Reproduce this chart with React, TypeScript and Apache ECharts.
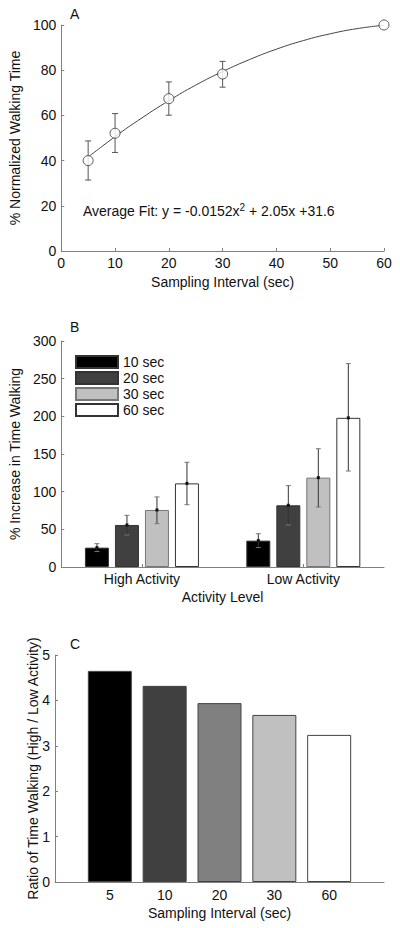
import React, { useEffect, useRef } from "react";
import * as echarts from "echarts";

// Panel A
const aX = [5, 10, 20, 30, 60];
const aMean = [40, 52.1, 67.4, 78.3, 100];
const aLow = [31.4, 43.6, 60.1, 72.5, null];
const aHigh = [48.7, 60.8, 74.8, 83.9, null];
const fitX = [5, 10, 15, 20, 25, 30, 35, 40, 45, 50, 55, 60];
const fitY = [41.5, 50.6, 58.9, 66.5, 73.4, 79.4, 84.7, 89.3, 93.1, 96.1, 98.4, 99.9];
const aXTicks = [0, 10, 20, 30, 40, 50, 60];
const aYTicks = [0, 20, 40, 60, 80, 100];

// Panel B
const bCategories = ["High Activity", "Low Activity"];
const bIntervals = ["10 sec", "20 sec", "30 sec", "60 sec"];
const bMean = [
  [25.7, 35],
  [55.8, 81.9],
  [75.7, 118.6],
  [111, 198],
];
const bLow = [
  [20.5, 25.8],
  [42.5, 55.8],
  [57.5, 79.6],
  [82.7, 127.4],
];
const bHigh = [
  [31, 44.2],
  [68.6, 108],
  [93, 157],
  [139, 270],
];
const bColors = ["#000000", "#404040", "#c0c0c0", "#ffffff"];

// Panel C
const cLabels = ["5", "10", "20", "30", "60"];
const cRatio = [4.65, 4.32, 3.94, 3.68, 3.24];
const cColors = ["#000000", "#404040", "#808080", "#c0c0c0", "#ffffff"];

const FONT = "Liberation Sans, Arial, sans-serif";
const TXT = "#111111";
const AX = "#808080";
const FS = 14;

function axisCommon() {
  return {
    axisLine: { show: true, lineStyle: { color: AX, width: 1 } },
    axisTick: { show: true, inside: true, length: 3, lineStyle: { color: AX } },
    axisLabel: { color: TXT, fontSize: FS, fontFamily: FONT, margin: 5 },
    splitLine: { show: false },
    nameTextStyle: { color: TXT, fontSize: FS, fontFamily: FONT },
    nameLocation: "middle" as const,
  };
}

export default function App() {
  const ref = useRef<HTMLDivElement>(null);
  useEffect(() => {
    if (!ref.current) return;
    const chart = echarts.init(ref.current, undefined, { renderer: "svg" });

    const aErr = aX
      .map((x, i) => [x, aLow[i], aHigh[i]])
      .filter((d) => d[1] !== null && d[2] !== null);

    const bErr: number[][] = [];
    bIntervals.forEach((_, s) => {
      bCategories.forEach((_, c) => {
        bErr.push([c, bLow[s][c], bHigh[s][c], bMean[s][c], s]);
      });
    });

    const option: any = {
      animation: false,
      backgroundColor: "#ffffff",
      textStyle: { fontFamily: FONT },
      grid: [
        { left: 55, top: 25, width: 329, height: 226 },
        { left: 55, top: 341, width: 329, height: 226 },
        { left: 55, top: 655, width: 329, height: 227 },
      ],
      xAxis: [
        {
          ...axisCommon(),
          gridIndex: 0,
          type: "value",
          min: aXTicks[0],
          max: aXTicks[aXTicks.length - 1],
          interval: 10,
          name: "Sampling Interval (sec)",
          nameGap: 24,
        },
        {
          ...axisCommon(),
          gridIndex: 1,
          type: "category",
          data: bCategories,
          axisTick: { show: true, inside: true, length: 3, alignWithLabel: true, lineStyle: { color: AX } },
          name: "Activity Level",
          nameGap: 23,
        },
        {
          ...axisCommon(),
          gridIndex: 2,
          type: "value",
          min: 0,
          max: cLabels.length + 1,
          interval: 1,
          axisTick: { show: false },
          axisLabel: {
            color: TXT,
            fontSize: FS,
            fontFamily: FONT,
            margin: 6,
            formatter: (v: number) => (v >= 1 && v <= cLabels.length ? cLabels[v - 1] : ""),
          },
          name: "Sampling Interval (sec)",
          nameGap: 24,
        },
      ],
      yAxis: [
        {
          ...axisCommon(),
          gridIndex: 0,
          type: "value",
          min: aYTicks[0],
          max: aYTicks[aYTicks.length - 1],
          interval: 20,
          name: "% Normalized Walking Time",
          nameGap: 33,
        },
        {
          ...axisCommon(),
          gridIndex: 1,
          type: "value",
          min: 0,
          max: 300,
          interval: 50,
          name: "% Increase in Time Walking",
          nameGap: 33,
        },
        {
          ...axisCommon(),
          gridIndex: 2,
          type: "value",
          min: 0,
          max: 5,
          interval: 1,
          name: "Ratio of Time Walking (High / Low Activity)",
          nameGap: 15,
          nameMoveOverlap: false,
        },
      ],
      legend: {
        left: 70,
        top: 350,
        orient: "vertical",
        itemWidth: 42,
        itemHeight: 12,
        itemGap: 2,
        icon: "rect",
        data: bIntervals,
        textStyle: { color: TXT, fontSize: FS, fontFamily: FONT },
      },
      graphic: [
        { type: "text", left: 70, top: 7, style: { text: "A", fontSize: FS, fontFamily: FONT, fill: TXT } },
        { type: "text", left: 70, top: 320, style: { text: "B", fontSize: FS, fontFamily: FONT, fill: TXT } },
        { type: "text", left: 70, top: 637, style: { text: "C", fontSize: FS, fontFamily: FONT, fill: TXT } },
        {
          type: "text",
          left: 83,
          top: 202,
          style: {
            text: "Average Fit: y = -0.0152x{sup|2} + 2.05x +31.6",
            fontSize: FS,
            fontFamily: FONT,
            fill: TXT,
            rich: { sup: { fontSize: 10, fontFamily: FONT, fill: TXT, verticalAlign: "top", padding: [0, 0, 8, 0] } },
          },
        },
      ],
      series: [
        {
          type: "line",
          xAxisIndex: 0,
          yAxisIndex: 0,
          data: fitX.map((x, i) => [x, fitY[i]]),
          smooth: true,
          showSymbol: false,
          symbol: "none",
          lineStyle: { color: "#444", width: 1 },
          z: 2,
        },
        {
          type: "custom",
          xAxisIndex: 0,
          yAxisIndex: 0,
          data: aErr,
          z: 3,
          renderItem: (params: any, api: any) => {
            const x = api.value(0);
            const p1 = api.coord([x, api.value(1)]);
            const p2 = api.coord([x, api.value(2)]);
            const w = 3;
            const st = { stroke: "#555", lineWidth: 1 };
            return {
              type: "group",
              children: [
                { type: "line", shape: { x1: p1[0], y1: p1[1], x2: p2[0], y2: p2[1] }, style: st },
                { type: "line", shape: { x1: p1[0] - w, y1: p1[1], x2: p1[0] + w, y2: p1[1] }, style: st },
                { type: "line", shape: { x1: p2[0] - w, y1: p2[1], x2: p2[0] + w, y2: p2[1] }, style: st },
              ],
            };
          },
        },
        {
          type: "scatter",
          xAxisIndex: 0,
          yAxisIndex: 0,
          data: aX.map((x, i) => [x, aMean[i]]),
          symbol: "circle",
          symbolSize: 10,
          itemStyle: { color: "#ffffff", borderColor: "#333", borderWidth: 1 },
          z: 4,
        },
        ...bIntervals.map((name, s) => ({
          type: "bar",
          name,
          xAxisIndex: 1,
          yAxisIndex: 1,
          data: bMean[s],
          barWidth: 24,
          barGap: "25%",
          itemStyle: { color: bColors[s], borderColor: s === 2 ? "#777" : "#333", borderWidth: 1 },
          z: 2,
        })),
        {
          type: "custom",
          xAxisIndex: 1,
          yAxisIndex: 1,
          data: bErr,
          z: 5,
          renderItem: (params: any, api: any) => {
            const c = api.value(0);
            const s = api.value(4);
            const off = (s - (bIntervals.length - 1) / 2) * 30;
            const p1 = api.coord([c, api.value(1)]);
            const p2 = api.coord([c, api.value(2)]);
            const pm = api.coord([c, api.value(3)]);
            const x = p1[0] + off;
            const w = 2.5;
            const st = { stroke: "#333", lineWidth: 1 };
            const cap = { stroke: "#777", lineWidth: 1 };
            return {
              type: "group",
              children: [
                { type: "line", shape: { x1: x, y1: p1[1], x2: x, y2: p2[1] }, style: st },
                { type: "line", shape: { x1: x - w, y1: p1[1], x2: x + w, y2: p1[1] }, style: cap },
                { type: "line", shape: { x1: x - w, y1: p2[1], x2: x + w, y2: p2[1] }, style: cap },
                { type: "rect", shape: { x: x - 1.5, y: pm[1] - 1.5, width: 3, height: 3 }, style: { fill: "#111" } },
              ],
            };
          },
        },
        {
          type: "bar",
          xAxisIndex: 2,
          yAxisIndex: 2,
          barWidth: 44,
          data: cRatio.map((v, i) => ({
            value: [i + 1, v],
            itemStyle: { color: cColors[i], borderColor: "#444", borderWidth: 1 },
          })),
          z: 2,
        },
      ],
    };
    chart.setOption(option);
    return () => chart.dispose();
  }, []);

  return (
    <div
      ref={ref}
      style={{ position: "absolute", left: 0, top: 0, width: 400, height: 928, background: "#fff" }}
    />
  );
}
